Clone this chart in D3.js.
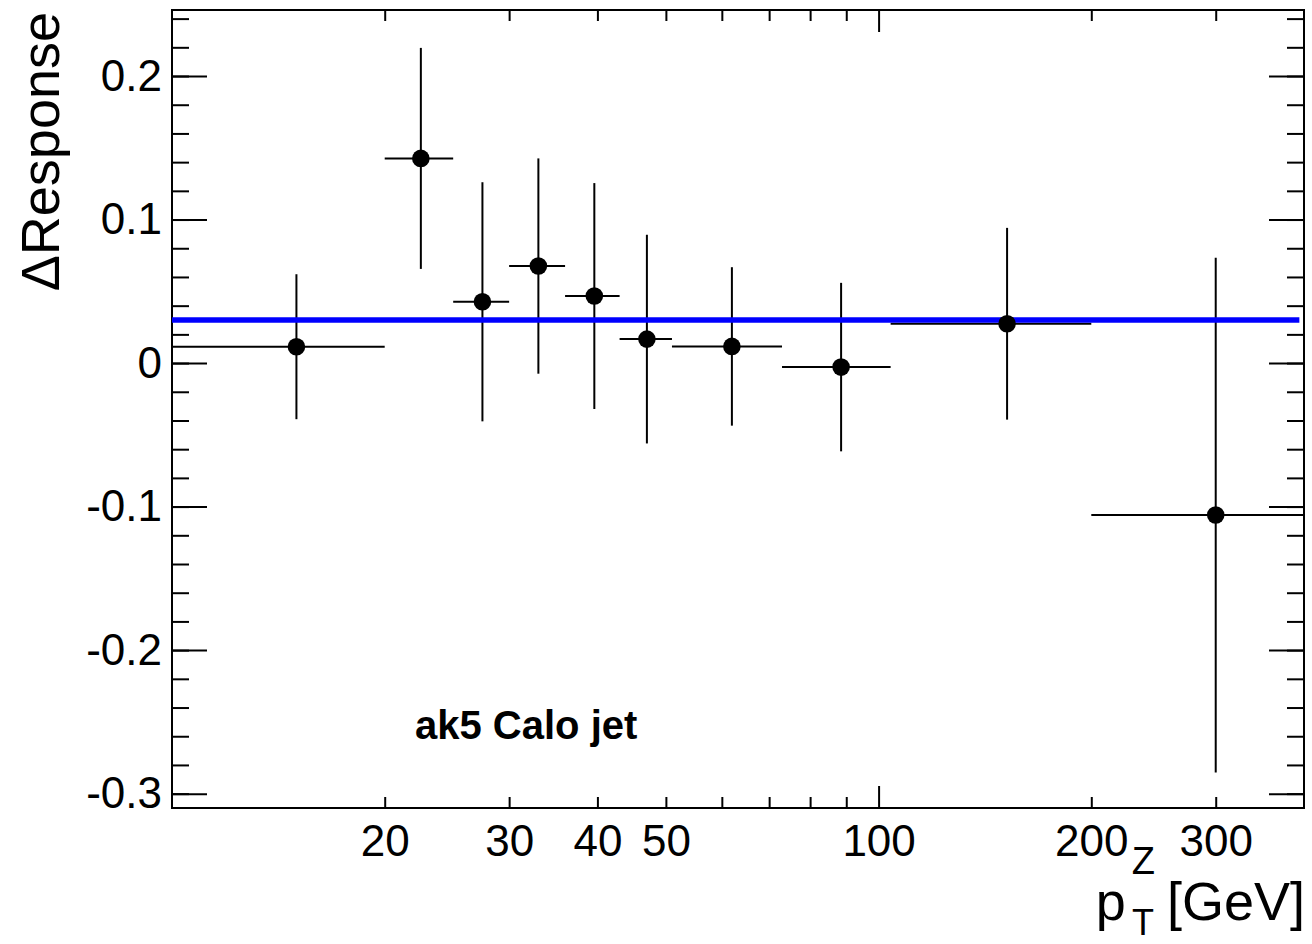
<!DOCTYPE html>
<html>
<head>
<meta charset="utf-8">
<script src="https://cdn.jsdelivr.net/npm/d3@7"></script>
<style>
  body { margin: 0; background: #fff; }
  svg { display: block; font-family: "Liberation Sans", Arial, Helvetica, sans-serif; }
</style>
</head>
<body>
<div id="wrapper"></div>
<script>
// Data
const ptCenters = [15, 22.5, 27.5, 33, 39.6, 47, 62, 88.5, 152, 300];
const binLow    = [10, 20, 25, 30, 36, 43, 51, 73, 104, 200];
const binHigh   = [20, 25, 30, 36, 43, 51, 73, 104, 200, 400];
const ptValues  = [0.0114, 0.1426, 0.0427, 0.0676, 0.0467, 0.0167, 0.0116, -0.0028, 0.0274, -0.1059];
const ptErrors  = [0.0505, 0.0770, 0.0833, 0.0750, 0.0787, 0.0727, 0.0552, 0.0587, 0.0668, 0.1793];
const fitValue = 0.030;
const fitRange = [10, 394];

const xLabelTicks = [20, 30, 40, 50, 100, 200, 300];
const xMinorTicks = [20, 30, 40, 50, 60, 70, 80, 90, 200, 300];
const xMajorTicks = [100];
const yLabelTicks = [-0.3, -0.2, -0.1, 0, 0.1, 0.2];

const drawChart = () => {
    const dimensions = {
        width: 1312,
        height: 944,
        margin: { top: 10, right: 8, bottom: 136, left: 172 },
    };
    dimensions.boundedWidth = dimensions.width - dimensions.margin.left - dimensions.margin.right;
    dimensions.boundedHeight = dimensions.height - dimensions.margin.top - dimensions.margin.bottom;

    const wrapper = d3.select("#wrapper")
        .append("svg")
        .attr("width", dimensions.width)
        .attr("height", dimensions.height);

    const bounds = wrapper.append("g")
        .attr("transform", `translate(${dimensions.margin.left},${dimensions.margin.top})`);

    // Scales
    const xScale = d3.scaleLog()
        .domain([10, 400])
        .range([0, dimensions.boundedWidth]);
    const yScale = d3.scaleLinear()
        .domain([-0.31, 0.246])
        .range([dimensions.boundedHeight, 0]);

    const yMinorTicks = d3.range(-15, 13).map(i => i * 0.02);
    const fmtY = d => d === 0 ? "0" : String(d);

    // Axes: inward ticks on all four sides
    const addAxis = (gen, transform) => {
        const g = bounds.append("g").attr("transform", transform).call(gen);
        g.select(".domain").remove();
        g.selectAll(".tick line").attr("stroke", "black").attr("stroke-width", 2);
        return g;
    };
    const H = dimensions.boundedHeight, W = dimensions.boundedWidth;

    addAxis(d3.axisBottom(xScale).tickValues(xMinorTicks).tickSize(-11).tickFormat(""), `translate(0,${H})`);
    addAxis(d3.axisBottom(xScale).tickValues(xMajorTicks).tickSize(-22).tickFormat(""), `translate(0,${H})`);
    addAxis(d3.axisTop(xScale).tickValues(xMinorTicks).tickSize(-11).tickFormat(""), "translate(0,0)");
    addAxis(d3.axisTop(xScale).tickValues(xMajorTicks).tickSize(-22).tickFormat(""), "translate(0,0)");
    addAxis(d3.axisLeft(yScale).tickValues(yMinorTicks).tickSize(-17).tickFormat(""), "translate(0,0)");
    addAxis(d3.axisLeft(yScale).tickValues(yLabelTicks).tickSize(-35).tickFormat(""), "translate(0,0)");
    addAxis(d3.axisRight(yScale).tickValues(yMinorTicks).tickSize(-17).tickFormat(""), `translate(${W},0)`);
    addAxis(d3.axisRight(yScale).tickValues(yLabelTicks).tickSize(-35).tickFormat(""), `translate(${W},0)`);

    // Tick labels
    const xLab = bounds.append("g")
        .attr("transform", `translate(0,${H})`)
        .call(d3.axisBottom(xScale).tickValues(xLabelTicks).tickSize(0).tickPadding(17).tickFormat(d => String(d)));
    xLab.select(".domain").remove();
    xLab.selectAll("text").attr("fill", "black").style("font-size", "44px").style("font-family", "inherit");

    const yLab = bounds.append("g")
        .call(d3.axisLeft(yScale).tickValues(yLabelTicks).tickSize(0).tickPadding(10).tickFormat(fmtY));
    yLab.select(".domain").remove();
    yLab.selectAll("text").attr("fill", "black").style("font-size", "44px").style("font-family", "inherit");

    // Frame
    bounds.append("rect")
        .attr("width", W)
        .attr("height", H)
        .attr("fill", "none")
        .attr("stroke", "black")
        .attr("stroke-width", 2);

    // Data
    const points = ptCenters.map((x, i) => ({
        x, y: ptValues[i], err: ptErrors[i], lo: binLow[i], hi: binHigh[i],
    }));

    const marks = bounds.append("g").attr("stroke", "black").attr("stroke-width", 2);
    marks.selectAll(".xerr").data(points).join("line")
        .attr("class", "xerr")
        .attr("x1", d => xScale(d.lo))
        .attr("x2", d => xScale(d.hi))
        .attr("y1", d => yScale(d.y))
        .attr("y2", d => yScale(d.y));
    marks.selectAll(".yerr").data(points).join("line")
        .attr("class", "yerr")
        .attr("x1", d => xScale(d.x))
        .attr("x2", d => xScale(d.x))
        .attr("y1", d => yScale(d.y + d.err))
        .attr("y2", d => yScale(d.y - d.err));

    // Fit line
    bounds.append("line")
        .attr("x1", xScale(fitRange[0]))
        .attr("x2", xScale(fitRange[1]))
        .attr("y1", yScale(fitValue))
        .attr("y2", yScale(fitValue))
        .attr("stroke", "#0000ff")
        .attr("stroke-width", 5.5);

    bounds.selectAll(".dot").data(points).join("circle")
        .attr("class", "dot")
        .attr("cx", d => xScale(d.x))
        .attr("cy", d => yScale(d.y))
        .attr("r", 8.8)
        .attr("fill", "black");

    // Label inside plot
    wrapper.append("text")
        .attr("x", 415)
        .attr("y", 739)
        .attr("font-weight", "bold")
        .style("font-size", "40px")
        .text("ak5 Calo jet");

    // Y axis title
    wrapper.append("text")
        .attr("transform", "translate(59,12) rotate(-90)")
        .attr("text-anchor", "end")
        .style("font-size", "54px")
        .text("\u0394Response");

    // X axis title: p_T^Z [GeV]
    const gev = wrapper.append("text")
        .attr("x", 1305)
        .attr("y", 920)
        .attr("text-anchor", "end")
        .style("font-size", "54px")
        .text("[GeV]");
    const gevStart = 1305 - gev.node().getComputedTextLength();
    const scriptEnd = gevStart - 12;
    const zSup = wrapper.append("text")
        .attr("x", scriptEnd)
        .attr("y", 874)
        .attr("text-anchor", "end")
        .style("font-size", "38px")
        .text("Z");
    wrapper.append("text")
        .attr("x", scriptEnd - 1)
        .attr("y", 935)
        .attr("text-anchor", "end")
        .style("font-size", "36px")
        .text("T");
    const scriptStart = scriptEnd - zSup.node().getComputedTextLength();
    wrapper.append("text")
        .attr("x", scriptStart - 6)
        .attr("y", 920)
        .attr("text-anchor", "end")
        .style("font-size", "54px")
        .text("p");
};
drawChart();
</script>
</body>
</html>
